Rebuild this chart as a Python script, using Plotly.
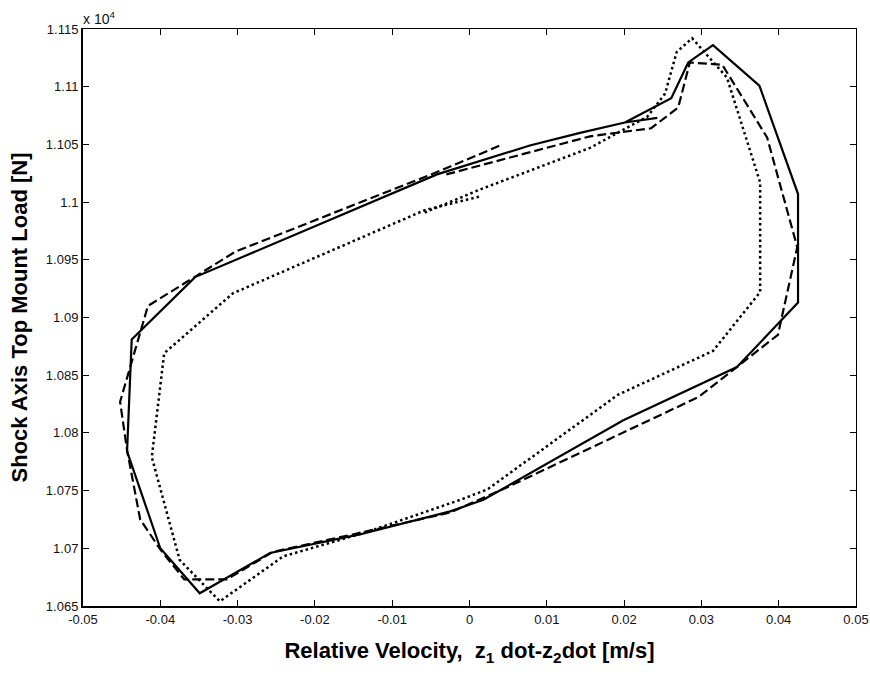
import plotly.graph_objects as go

# ---------------- data ----------------
# Relative velocity [m/s] and top-mount load [N] for the three curves
solid_v = [0.0201, 0.0261, 0.0283, 0.0315, 0.0375, 0.0425, 0.0425, 0.0346, 0.0199,
           0.0018, -0.0025, -0.0142, -0.0258, -0.0349, -0.0400, -0.0443, -0.0437,
           -0.0355, -0.0042, 0.0078, 0.0143, 0.0201, 0.0243]
solid_f = [11069, 11090, 11121, 11136, 11101, 11007, 10913, 10857, 10811,
           10742, 10732, 10712, 10696, 10661, 10700, 10784, 10881,
           10935, 11024, 11049, 11060, 11069, 11073]

dashed_v = [-0.0030, 0.0156, 0.0235, 0.0270, 0.0285, 0.0327, 0.0385, 0.0424, 0.0399,
            0.0346, 0.0296, 0.0049, -0.0025, -0.0151, -0.0254, -0.0314, -0.0369,
            -0.0400, -0.0426, -0.0443, -0.0452, -0.0416, -0.0358, -0.0303, -0.0042, 0.0043]
dashed_f = [11024, 11057, 11064, 11082, 11121, 11119, 11056, 10961, 10885,
            10857, 10831, 10753, 10731, 10712, 10697, 10673, 10673,
            10699, 10725, 10785, 10827, 10910, 10934, 10957, 11026, 11050]

dotted_v = [-0.0058, 0.0014, 0.0156, 0.0230, 0.0253, 0.0268, 0.0288, 0.0333, 0.0376,
            0.0376, 0.0315, 0.0192, 0.0023, -0.0012, -0.0133, -0.0241, -0.0323,
            -0.0375, -0.0411, -0.0395, -0.0306, -0.0058, 0.0014]
dotted_f = [10991, 11011, 11047, 11074, 11094, 11130, 11142, 11108, 11017,
            10922, 10871, 10833, 10751, 10742, 10714, 10693, 10654,
            10690, 10779, 10869, 10921, 10993, 11005]

x_ticks = [-0.05, -0.04, -0.03, -0.02, -0.01, 0, 0.01, 0.02, 0.03, 0.04, 0.05]
x_labels = ["-0.05", "-0.04", "-0.03", "-0.02", "-0.01", "0", "0.01", "0.02", "0.03", "0.04", "0.05"]
y_ticks = [10650, 10700, 10750, 10800, 10850, 10900, 10950, 11000, 11050, 11100, 11150]
y_labels = ["1.065", "1.07", "1.075", "1.08", "1.085", "1.09", "1.095", "1.1", "1.105", "1.11", "1.115"]

# ---------------- figure ----------------
fig = go.Figure()
fig.add_trace(go.Scatter(x=solid_v, y=solid_f, mode="lines",
                         line=dict(color="black", width=2.2, dash="solid"), showlegend=False))
fig.add_trace(go.Scatter(x=dashed_v, y=dashed_f, mode="lines",
                         line=dict(color="black", width=2.2, dash="9px,4px"), showlegend=False))
fig.add_trace(go.Scatter(x=dotted_v, y=dotted_f, mode="lines",
                         line=dict(color="black", width=2.5, dash="2.5px,3px"), showlegend=False))
# dummy trace for the mirrored (top/right) frame axes
fig.add_trace(go.Scatter(x=[x_ticks[0]], y=[y_ticks[0]], xaxis="x2", yaxis="y2",
                         mode="markers", marker=dict(opacity=0), showlegend=False,
                         hoverinfo="skip"))

tick_font = dict(family="Liberation Sans, Arial, sans-serif", size=13, color="#111")
title_font = dict(family="Liberation Sans, Arial, sans-serif", size=22, color="black")

fig.update_layout(
    width=870, height=676,
    margin=dict(l=83, r=14, t=29, b=70),
    paper_bgcolor="white", plot_bgcolor="white",
    xaxis=dict(range=[x_ticks[0], x_ticks[-1]], tickvals=x_ticks, ticktext=x_labels,
               ticks="inside", ticklen=6, tickwidth=1, tickcolor="black",
               showline=True, linecolor="black", linewidth=2, showgrid=False,
               zeroline=False, tickfont=tick_font, automargin=False,
               title=dict(text="<b>Relative Velocity,  z<sub>1</sub> dot-z<sub>2</sub>dot [m/s]</b>",
                          font=title_font, standoff=17)),
    yaxis=dict(range=[y_ticks[0], y_ticks[-1]], tickvals=y_ticks, ticktext=y_labels,
               ticks="inside", ticklen=6, tickwidth=1, tickcolor="black",
               showline=True, linecolor="black", linewidth=2, showgrid=False,
               zeroline=False, tickfont=tick_font, automargin=False,
               title=dict(text="<b>Shock Axis Top Mount Load [N]</b>",
                          font=title_font, standoff=12)),
    xaxis2=dict(overlaying="x", side="top", range=[x_ticks[0], x_ticks[-1]],
                tickvals=x_ticks, showticklabels=False, ticks="inside", ticklen=6,
                tickcolor="black", showline=True, linecolor="black", linewidth=1,
                showgrid=False, zeroline=False, automargin=False),
    yaxis2=dict(overlaying="y", side="right", range=[y_ticks[0], y_ticks[-1]],
                tickvals=y_ticks, showticklabels=False, ticks="inside", ticklen=6,
                tickcolor="black", showline=True, linecolor="black", linewidth=1,
                showgrid=False, zeroline=False, automargin=False),
    annotations=[dict(text="x 10<sup>4</sup>", xref="paper", yref="paper",
                      x=0, y=1, xanchor="left", yanchor="bottom", showarrow=False,
                      xshift=-2, font=dict(family="Liberation Sans, Arial, sans-serif", size=14,
                                           color="#111"))],
)

fig.write_html("out.html")
